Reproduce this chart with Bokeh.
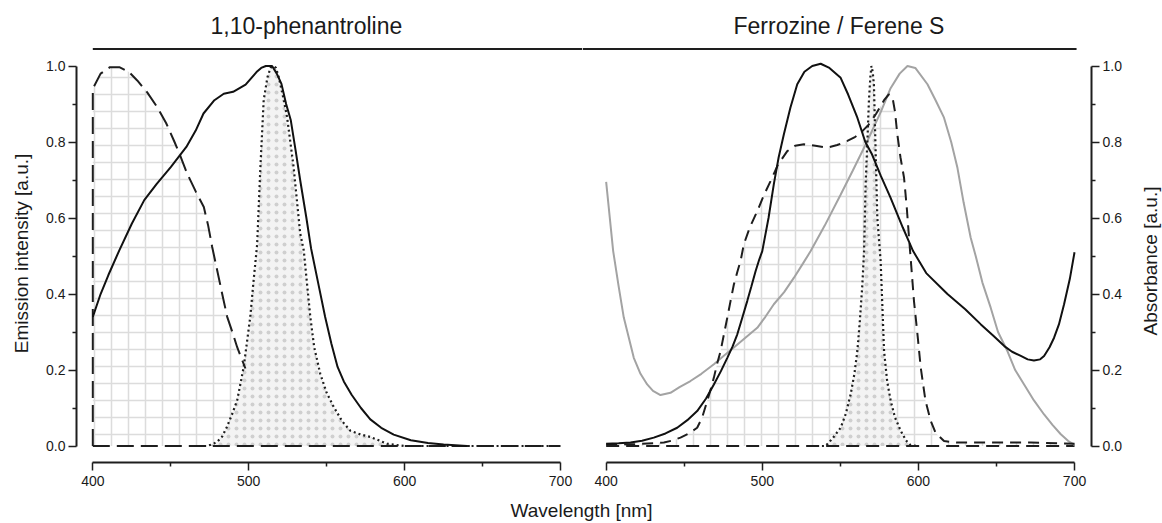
import math
from bokeh.plotting import figure
from bokeh.layouts import row, column
from bokeh.models import Range1d, FixedTicker, PrintfTickFormatter, Label
from bokeh.embed import file_html
from bokeh.resources import INLINE

FONT = "Liberation Sans"
TEXT = "#1a1a1a"

# ---------------- data ----------------
x_ticks = [400, 500, 600, 700]
x_minor = [450, 550, 650]
y_ticks = [0.0, 0.2, 0.4, 0.6, 0.8, 1.0]
y_minor = [0.1, 0.3, 0.5, 0.7, 0.9]

baseline_wl = [400, 700]
baseline_val = [0.0, 0.0]

# 1,10-phenantroline panel
phen_solid_wl = [400, 405, 410, 417, 425, 433, 441, 450, 460, 466, 471, 478, 484, 490, 498, 505,
                 508, 511, 515, 518, 521, 524, 527, 530, 533, 537, 540, 545, 549, 553, 557, 561,
                 566, 572, 578, 585, 593, 604, 615, 625, 640]
phen_solid_val = [0.34, 0.40, 0.45, 0.515, 0.585, 0.647, 0.69, 0.734, 0.787, 0.83, 0.875, 0.91,
                  0.927, 0.932, 0.951, 0.984, 0.995, 1.0, 1.0, 0.98, 0.953, 0.9, 0.857, 0.78,
                  0.70, 0.60, 0.52, 0.42, 0.34, 0.27, 0.208, 0.17, 0.135, 0.10, 0.07, 0.048,
                  0.03, 0.015, 0.008, 0.004, 0.0]

phen_dot_wl = [465, 473, 477, 480, 483, 486, 489, 492.6, 496.8, 501, 503, 505.4, 507.5, 509.6,
               512, 514, 516, 517.5, 519.3, 522, 524.6, 528.8, 533, 535.3, 539.5, 542, 545.9,
               550, 554.5, 560, 565.2, 572, 578, 588.7, 600, 700]
phen_dot_val = [0.0, 0.0, 0.005, 0.012, 0.025, 0.05, 0.08, 0.12, 0.208, 0.34, 0.43, 0.53, 0.734,
                0.91, 0.97, 0.995, 1.0, 0.995, 0.97, 0.92, 0.866, 0.734, 0.56, 0.515, 0.34,
                0.26, 0.19, 0.14, 0.103, 0.065, 0.04, 0.03, 0.024, 0.006, 0.0, 0.0]

phen_dash_wl = [400, 400, 405, 411, 417, 423, 428.5, 435, 441.3, 447, 452, 456, 460.5, 466,
                471.2, 474, 476.5, 479.8, 483, 486.2, 489.5, 492.6, 497.9]
phen_dash_val = [0.0, 0.94, 0.98, 0.997, 0.997, 0.985, 0.962, 0.93, 0.892, 0.85, 0.804, 0.765,
                 0.717, 0.67, 0.629, 0.58, 0.525, 0.462, 0.40, 0.34, 0.30, 0.26, 0.204]

# Ferrozine / Ferene S panel
fz_gray_wl = [400, 404.5, 408, 411.3, 417.7, 422, 426.3, 430, 434.8, 441.2, 447, 454, 461, 469,
              475, 481.8, 489, 496.8, 502, 507.4, 514, 520.3, 526, 531, 540, 550, 558, 567,
              576, 582, 588, 593, 598, 605.8, 611, 616.4, 621, 625, 629, 633.5, 636.7, 641,
              646.3, 651, 657, 662, 667.7, 674, 680.5, 686, 691.2, 696, 700]
fz_gray_val = [0.695, 0.513, 0.42, 0.338, 0.232, 0.19, 0.162, 0.145, 0.134, 0.14, 0.155, 0.171,
               0.19, 0.215, 0.236, 0.259, 0.284, 0.311, 0.34, 0.373, 0.405, 0.443, 0.48, 0.513,
               0.58, 0.66, 0.725, 0.80, 0.88, 0.94, 0.98, 1.0, 0.995, 0.952, 0.91, 0.864, 0.8,
               0.732, 0.64, 0.548, 0.5, 0.43, 0.364, 0.30, 0.25, 0.20, 0.162, 0.12, 0.083,
               0.055, 0.031, 0.013, 0.003]

fz_black_wl = [400, 408, 415.6, 423, 430.5, 438, 445.5, 452, 458.3, 464, 469, 473.5, 477.6, 481,
               484, 487, 490.4, 493, 495.7, 498, 500, 504, 507.4, 510.5, 513.8, 518, 522.4, 527,
               532, 537.4, 543, 550.2, 555, 560.9, 566, 570, 576, 582, 590, 596.6, 605, 618.6,
               630, 640, 648, 655, 660, 665.6, 670, 674, 678, 680.5, 684, 686.9, 690, 693.3,
               697, 700]
fz_black_val = [0.006, 0.007, 0.009, 0.014, 0.022, 0.033, 0.048, 0.068, 0.092, 0.125, 0.162,
                0.197, 0.232, 0.262, 0.294, 0.335, 0.382, 0.42, 0.46, 0.49, 0.513, 0.60, 0.689,
                0.76, 0.82, 0.89, 0.952, 0.985, 1.0, 1.006, 0.995, 0.969, 0.925, 0.864, 0.80,
                0.77, 0.71, 0.655, 0.575, 0.513, 0.455, 0.40, 0.36, 0.32, 0.29, 0.263, 0.248,
                0.237, 0.228, 0.225, 0.228, 0.237, 0.26, 0.285, 0.32, 0.373, 0.44, 0.51]

fz_dash_wl = [400, 420, 437, 442, 447.6, 453, 458.3, 461.5, 464.7, 467, 469, 471, 473.3, 475.5,
              477.6, 479.7, 481.8, 484, 486.1, 488.2, 492, 496.8, 501, 505.3, 510, 516, 521,
              526.7, 534, 541.7, 548, 554.5, 559, 563, 568, 573, 578, 581, 583.3, 585, 586.5,
              588.5, 590.8, 592.5, 594, 595, 597.2, 599.5, 601.5, 604.5, 607.9, 611, 616.4,
              625, 640, 672, 700]
fz_dash_val = [0.004, 0.005, 0.009, 0.014, 0.022, 0.033, 0.048, 0.075, 0.118, 0.15, 0.18, 0.215,
               0.25, 0.295, 0.338, 0.382, 0.425, 0.458, 0.487, 0.531, 0.575, 0.618, 0.66, 0.697,
               0.74, 0.776, 0.79, 0.794, 0.79, 0.785, 0.792, 0.803, 0.812, 0.824, 0.845, 0.875,
               0.91, 0.925, 0.92, 0.88, 0.82, 0.76, 0.706, 0.63, 0.548, 0.496, 0.38, 0.29, 0.206,
               0.12, 0.066, 0.035, 0.013, 0.009, 0.009, 0.009, 0.006]

fz_dot_wl = [535, 540.6, 545, 550.2, 553.5, 556.6, 559, 560.9, 562.5, 564.1, 565.2, 566.2, 567.3,
             568.3, 569.2, 569.9, 570.7, 571.5, 572.6, 573.7, 575, 575.8, 577, 578, 580, 582.3,
             585, 588.7, 592, 595, 600]
fz_dot_val = [0.0, 0.0, 0.02, 0.048, 0.085, 0.136, 0.19, 0.25, 0.33, 0.425, 0.513, 0.689, 0.8,
              0.908, 0.97, 1.0, 0.985, 0.952, 0.776, 0.6, 0.53, 0.487, 0.36, 0.25, 0.17, 0.118,
              0.075, 0.04, 0.015, 0.002, 0.0]

# header rules (wavelength extents in each panel)
left_range = (389.54, 714.1)
right_range = (384.85, 710.87)
header_left_wl = [400, left_range[1]]
header_right_wl = [right_range[0], 701.3]
header_val = [1.045, 1.045]

Y_RANGE = (-0.0434, 1.0566)

DARK = "#1e1e1e"
GRAY = "#a3a3a3"
GRID_HATCH = "#dcdcdc"
DOT_HATCH = "#cfcfcf"
DOT_BG = "#f3f3f3"


def style_axis(ax, bounds, ticks, minor, fmt=None):
    ax.bounds = bounds
    ax.ticker = FixedTicker(ticks=ticks, minor_ticks=minor)
    if fmt:
        ax.formatter = PrintfTickFormatter(format=fmt)
    ax.axis_line_width = 2
    ax.axis_line_color = DARK
    ax.major_tick_line_width = 1.5
    ax.major_tick_line_color = DARK
    ax.minor_tick_line_width = 1.5
    ax.minor_tick_line_color = DARK
    ax.major_tick_out = 8
    ax.major_tick_in = 0
    ax.minor_tick_out = 4
    ax.minor_tick_in = 0
    ax.major_label_text_font = FONT
    ax.major_label_text_font_size = "14px"
    ax.major_label_text_color = TEXT
    ax.axis_label_text_font = FONT
    ax.axis_label_text_font_size = "19px"
    ax.axis_label_text_font_style = "normal"
    ax.axis_label_text_color = TEXT


def make_fig(width, xr, title, title_offset, **kw):
    p = figure(width=width, height=492, x_range=Range1d(*xr), y_range=Range1d(*Y_RANGE),
               toolbar_location=None, output_backend="svg", min_border_top=44,
               min_border_bottom=30, **kw)
    p.grid.visible = False
    p.outline_line_color = None
    p.title.text = title
    p.title.align = "left"
    p.title.offset = title_offset
    p.title.text_font = FONT
    p.title.text_font_size = "23px"
    p.title.text_font_style = "normal"
    p.title.text_color = TEXT
    p.title.standoff = 12
    return p


def text_fig(width, height):
    p = figure(width=width, height=height, x_range=Range1d(0, 1), y_range=Range1d(0, 1),
               toolbar_location=None, output_backend="svg", x_axis_type=None,
               y_axis_type=None, title=None, min_border=0)
    p.grid.visible = False
    p.outline_line_color = None
    return p


# ---------------- left panel ----------------
p1 = make_fig(582, left_range, "1,10-phenantroline", 134, min_border_left=76, min_border_right=0)
style_axis(p1.xaxis[0], (400, 700), x_ticks, x_minor)
p1.xaxis[0].major_label_standoff = 5
style_axis(p1.yaxis[0], (0, 1), y_ticks, y_minor, "%.1f")
p1.yaxis[0].major_label_standoff = 3
p1.yaxis[0].axis_label = "Emission intensity [a.u.]"
p1.yaxis[0].axis_label_standoff = 11

p1.varea(x=phen_dash_wl, y1=0, y2=phen_dash_val, fill_alpha=0, hatch_pattern="+",
         hatch_color=GRID_HATCH, hatch_scale=17, hatch_weight=1.5)
p1.varea(x=phen_dot_wl, y1=0, y2=phen_dot_val, fill_color=DOT_BG, hatch_pattern=".",
         hatch_color=DOT_HATCH, hatch_scale=8, hatch_weight=5)
p1.line(baseline_wl, baseline_val, line_color=DARK, line_width=2, line_dash="17 7")
p1.line(phen_dash_wl, phen_dash_val, line_color=DARK, line_width=2, line_dash="17 7")
p1.line(phen_dot_wl, phen_dot_val, line_color=DARK, line_width=2.2, line_dash="2 3")
p1.line(phen_solid_wl, phen_solid_val, line_color="#111111", line_width=2)
p1.line(header_left_wl, header_val, line_color=DARK, line_width=2)

# ---------------- right panel ----------------
p2 = make_fig(542, right_range, "Ferrozine / Ferene S", 151, min_border_left=0,
              min_border_right=32, y_axis_location="right")
style_axis(p2.xaxis[0], (400, 700), x_ticks, x_minor)
p2.xaxis[0].major_label_standoff = 5
ya = p2.yaxis[0]
style_axis(ya, (0, 1), y_ticks, y_minor, "%.1f")
ya.major_label_standoff = 3

p2.varea(x=fz_dash_wl, y1=0, y2=fz_dash_val, fill_alpha=0, hatch_pattern="+",
         hatch_color=GRID_HATCH, hatch_scale=17, hatch_weight=1.5)
p2.varea(x=fz_dot_wl, y1=0, y2=fz_dot_val, fill_color=DOT_BG, hatch_pattern=".",
         hatch_color=DOT_HATCH, hatch_scale=8, hatch_weight=5)
p2.line(baseline_wl, baseline_val, line_color=DARK, line_width=2, line_dash="13 7")
p2.line(fz_gray_wl, fz_gray_val, line_color=GRAY, line_width=2)
p2.line(fz_dash_wl, fz_dash_val, line_color=DARK, line_width=2, line_dash="11 7")
p2.line(fz_dot_wl, fz_dot_val, line_color=DARK, line_width=2.2, line_dash="2 3")
p2.line(fz_black_wl, fz_black_val, line_color="#111111", line_width=2)
p2.line(header_right_wl, header_val, line_color=DARK, line_width=2)

# ---------------- right-hand axis title ----------------
p4 = text_fig(38, 492)
p4.add_layout(Label(x=0.684, y=0.482, text="Absorbance [a.u.]", angle=math.pi / 2,
                    text_align="center", text_baseline="middle", text_font=FONT,
                    text_font_size="19px", text_color=TEXT))

# ---------------- shared x label ----------------
p3 = text_fig(1162, 31)
p3.add_layout(Label(x=0.5, y=0.42, text="Wavelength [nm]", text_align="center",
                    text_baseline="alphabetic", text_font=FONT, text_font_size="19px",
                    text_color=TEXT))

layout = column(row(p1, p2, p4), p3)
open("out.html", "w").write(file_html(layout, INLINE))
